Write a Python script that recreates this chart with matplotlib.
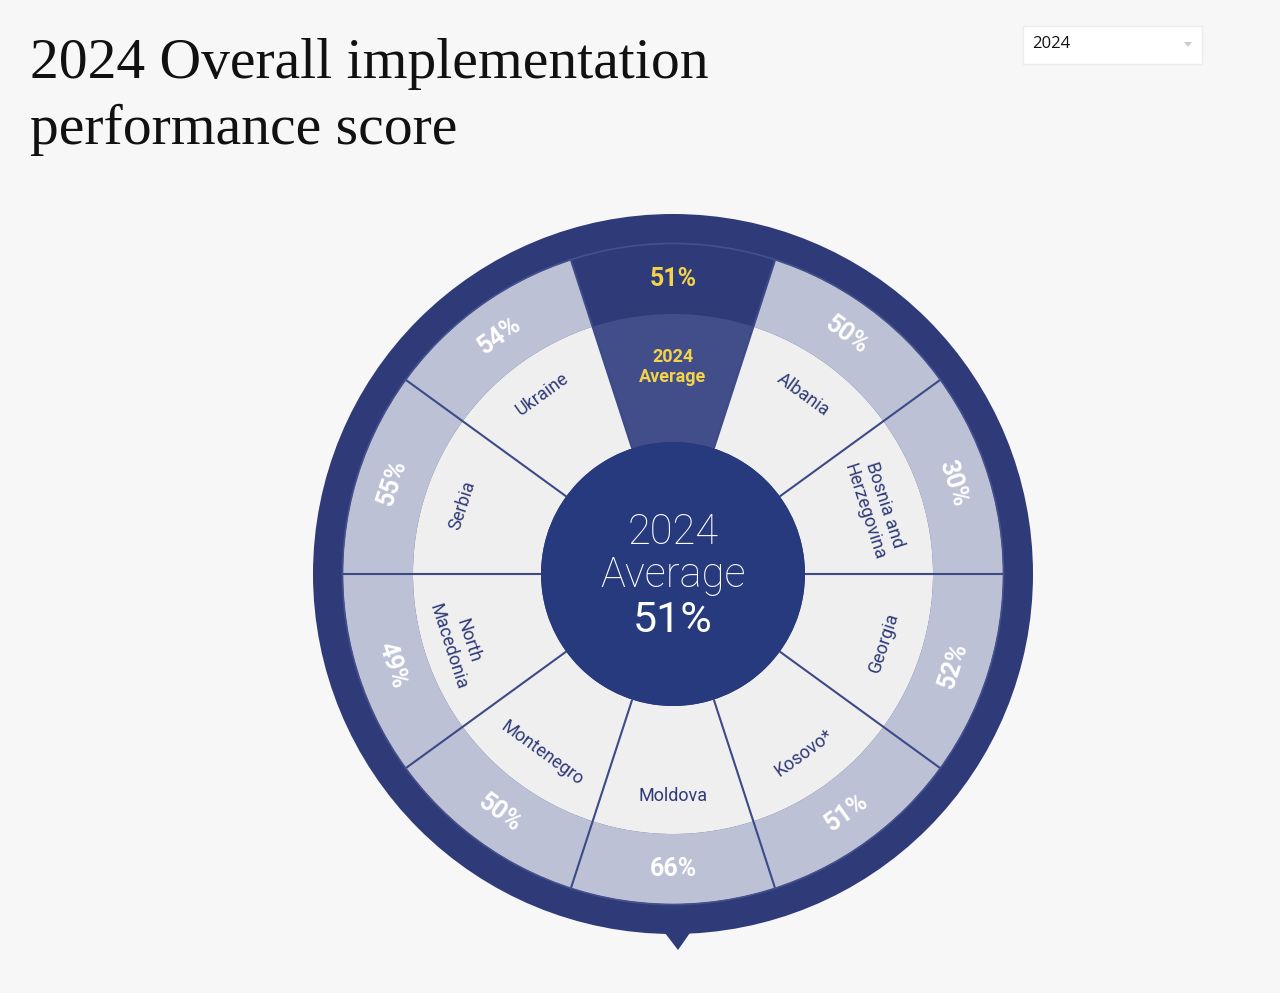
import matplotlib
matplotlib.use('Agg')
import matplotlib.pyplot as plt
from matplotlib.patches import Wedge, Circle, Polygon, FancyBboxPatch
import numpy as np

# data, clockwise from the top segment
labels = ["2024\nAverage", "Albania", "Bosnia and\nHerzegovina", "Georgia", "Kosovo*",
          "Moldova", "Montenegro", "North\nMacedonia", "Serbia", "Ukraine"]
scores = [51, 50, 30, 52, 51, 66, 50, 49, 55, 54]
average = 51
year = "2024"
title_lines = ["2024 Overall implementation", "performance score"]

W, H = 1280, 993
BG = '#f7f7f7'
NAVY = '#2f3a78'
CENTER = '#283a7e'
LIGHT = '#bcc1d5'
PALE = '#efefef'
AVG_IN = '#424e8a'
YELLOW = '#f3d34a'
LINE = '#3d4a88'

plt.rcParams['font.family'] = ['Roboto', 'DejaVu Sans']

fig = plt.figure(figsize=(W / 100, H / 100), dpi=100, facecolor=BG)
ax = fig.add_axes([0, 0, 1, 1])
ax.set_xlim(0, W)
ax.set_ylim(0, H)
ax.set_aspect('equal')
ax.axis('off')
ax.set_facecolor(BG)

cx, cy = 673, H - 574
r_outer, r_ring, r_pale, r_center = 360, 330, 260, 132

# pointer + outer ring
ax.add_patch(Polygon([(655, H - 920), (699, H - 920), (678, H - 950)], closed=True,
                     facecolor=NAVY, edgecolor='none', zorder=1))
ax.add_patch(Circle((cx, cy), r_outer, facecolor=NAVY, edgecolor='none', zorder=1))

n = len(labels)
step = 360 / n
for i, (lab, val) in enumerate(zip(labels, scores)):
    mid = 90 - step * i
    a1, a2 = mid - step / 2, mid + step / 2
    is_avg = i == 0
    ax.add_patch(Wedge((cx, cy), r_ring, a1, a2, width=r_ring - r_pale,
                       facecolor=NAVY if is_avg else LIGHT, edgecolor='none', zorder=2))
    ax.add_patch(Wedge((cx, cy), r_pale, a1, a2, width=r_pale - r_center,
                       facecolor=AVG_IN if is_avg else PALE, edgecolor='none', zorder=2))

    t = (mid + 180) % 360 - 180
    rot = t - 90 if t > 0 else t + 90
    if t == 90:
        rot = 0
    rad = np.deg2rad(mid)
    px, py = cx + 295 * np.cos(rad), cy + 295 * np.sin(rad)
    ax.text(px, py, f"{val}%", rotation=rot, rotation_mode='anchor', ha='center', va='center',
            fontsize=18, fontweight='bold', color=YELLOW if is_avg else 'white', zorder=5)
    if is_avg:
        lr = 207
    elif '\n' in lab:
        lr = 212 if t > 0 else 226
    else:
        lr = 222
    lx, ly = cx + lr * np.cos(rad), cy + lr * np.sin(rad)
    ax.text(lx, ly, lab, rotation=rot, rotation_mode='anchor', ha='center', va='center',
            fontsize=13, fontweight='bold' if is_avg else 'normal',
            color=YELLOW if is_avg else NAVY, linespacing=1.2, zorder=5)

# separators between segments
for i in range(n):
    b = np.deg2rad(90 - step * i + step / 2)
    ax.plot([cx + r_center * np.cos(b), cx + r_ring * np.cos(b)],
            [cy + r_center * np.sin(b), cy + r_ring * np.sin(b)],
            color=LINE, lw=1.5, zorder=3, solid_capstyle='butt')

ax.add_patch(Circle((cx, cy), r_ring + 0.5, facecolor='none', edgecolor='#45518d', lw=1.2, zorder=3))
ax.add_patch(Circle((cx, cy), r_center, facecolor=CENTER, edgecolor='none', zorder=4))

ax.text(cx, H - 532, year, ha='center', va='center', fontsize=30, fontweight='light',
        color='white', zorder=6)
ax.text(cx, H - 576, "Average", ha='center', va='center', fontsize=30, fontweight='light',
        color='white', zorder=6)
ax.text(cx, H - 621, f"{average}%", ha='center', va='center', fontsize=31,
        color='white', zorder=6)

# title
for k, line in enumerate(title_lines):
    ax.text(30, H - 78 - 66 * k, line, ha='left', va='baseline', fontsize=41.5,
            family='Liberation Serif', color='#111111')

# year dropdown
ax.add_patch(FancyBboxPatch((1023, H - 64), 179, 38, boxstyle='square,pad=0',
                            facecolor='white', edgecolor='#ececec', lw=1))
ax.text(1032, H - 44, year, ha='left', va='center', fontsize=12, family='Open Sans', color='#111111')
ax.add_patch(Polygon([(1184, H - 42), (1192, H - 42), (1188, H - 47)], closed=True,
                     facecolor='#cccccc', edgecolor='none'))

fig.savefig('out.png', dpi=100, facecolor=BG)
